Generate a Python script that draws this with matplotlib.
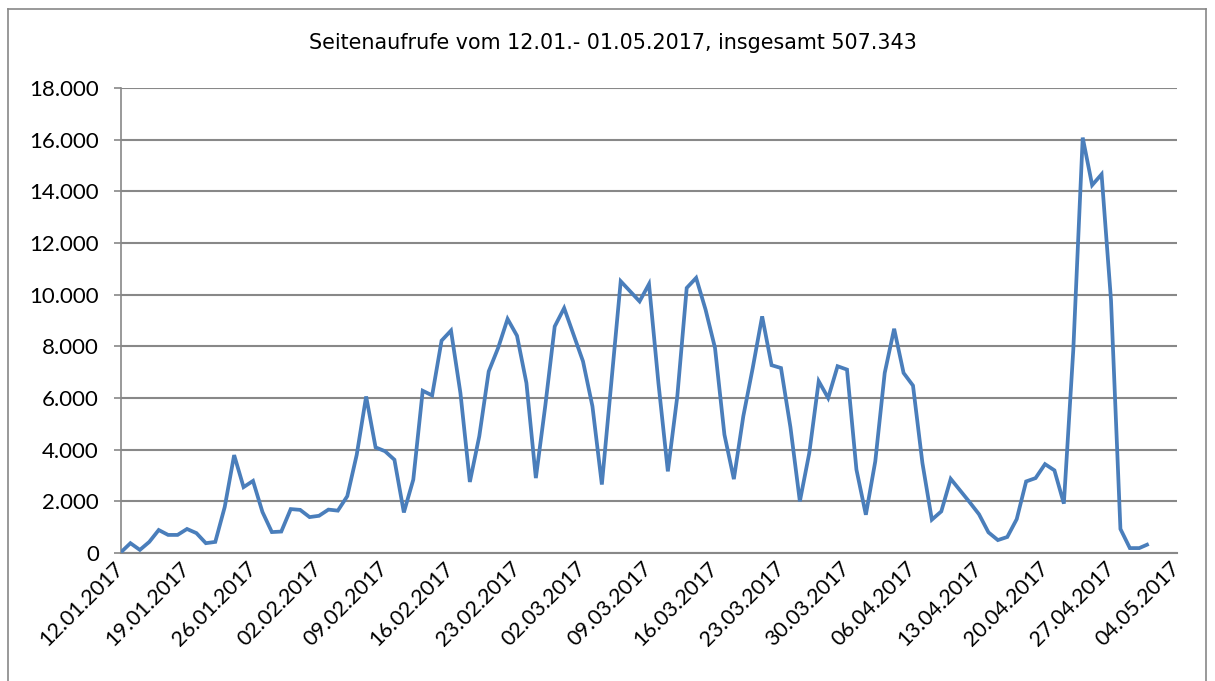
import matplotlib

matplotlib.use("Agg")
import matplotlib.pyplot as plt
import numpy as np
from matplotlib.lines import Line2D
from matplotlib.ticker import FuncFormatter

# daily page views, 12.01.2017 .. 01.05.2017
views = [
    30, 380, 120, 430, 890, 700, 700, 930, 770, 380,
    430, 1780, 3790, 2550, 2790, 1590, 810, 830, 1700, 1670,
    1390, 1440, 1680, 1640, 2200, 3800, 6060, 4090, 3940, 3610,
    1570, 2840, 6280, 6100, 8220, 8610, 6190, 2750, 4520, 7030,
    7940, 9060, 8410, 6580, 2900, 5700, 8770, 9480, 8450, 7420,
    5680, 2650, 6580, 10520, 10130, 9740, 10410, 6580, 3160, 6060,
    10260, 10650, 9420, 7940, 4580, 2860, 5290, 7160, 9160, 7270,
    7160, 4870, 2000, 3870, 6650, 6000, 7230, 7100, 3230, 1480,
    3550, 6970, 8680, 6970, 6480, 3480, 1290, 1610, 2870, 2420,
    1970, 1500, 800, 500, 620, 1310, 2770, 2900, 3440, 3200,
    1910, 7860, 16080, 14240, 14660, 9790, 930, 190, 190, 350,
]

tick_labels = [
    "12.01.2017", "19.01.2017", "26.01.2017", "02.02.2017", "09.02.2017",
    "16.02.2017", "23.02.2017", "02.03.2017", "09.03.2017", "16.03.2017",
    "23.03.2017", "30.03.2017", "06.04.2017", "13.04.2017", "20.04.2017",
    "27.04.2017", "04.05.2017",
]
title = "Seitenaufrufe vom 12.01.- 01.05.2017, insgesamt 507.343"

W, H = 1215, 681
FONT = "Lato"
GRID = "#888888"

fig = plt.figure(figsize=(W / 100, H / 100), dpi=100)
ax = fig.add_axes([121 / W, 1 - 553 / H, (1177 - 121) / W, (553 - 88) / H])

days = np.arange(len(views))
ax.plot(days, views, color="#4A7EBB", lw=2.7, solid_joinstyle="miter",
        solid_capstyle="butt", zorder=3)

ax.set_xlim(0, 7 * (len(tick_labels) - 1))
ax.set_ylim(0, 18000)
ax.set_yticks(np.arange(0, 18001, 2000))
ax.yaxis.set_major_formatter(
    FuncFormatter(lambda v, _: f"{int(v):,}".replace(",", "."))
)
ax.set_xticks(np.arange(0, 7 * len(tick_labels), 7))
ax.set_xticklabels(tick_labels, rotation=45, ha="right", va="center",
                   rotation_mode="anchor")

ax.grid(axis="y", color=GRID, lw=1.5)
ax.set_axisbelow(True)
for side in ["top", "right"]:
    ax.spines[side].set_visible(False)
ax.spines["left"].set_color(GRID)
ax.spines["left"].set_linewidth(1.2)
ax.spines["bottom"].set_color(GRID)
ax.spines["bottom"].set_linewidth(1.5)
ax.tick_params(axis="y", length=5, width=1.2, color=GRID, pad=11,
               labelsize=16)
ax.tick_params(axis="x", length=0, pad=9, labelsize=15.5)
for lab in ax.get_xticklabels() + ax.get_yticklabels():
    lab.set_fontfamily(FONT)

fig.text(613 / W, 1 - 43 / H, title, ha="center", va="center",
         fontsize=14.9, family="DejaVu Sans")

# outer chart frame
fig.add_artist(Line2D([8 / W, 8 / W], [0, 1 - 9 / H], color=GRID, lw=1.2,
                      transform=fig.transFigure))
fig.add_artist(Line2D([8 / W, 1206 / W], [1 - 9 / H, 1 - 9 / H], color=GRID,
                      lw=1.2, transform=fig.transFigure))
fig.add_artist(Line2D([1206 / W, 1206 / W], [0, 1 - 9 / H], color=GRID,
                      lw=1.2, transform=fig.transFigure))

fig.savefig("out.png", dpi=100, facecolor="white")
